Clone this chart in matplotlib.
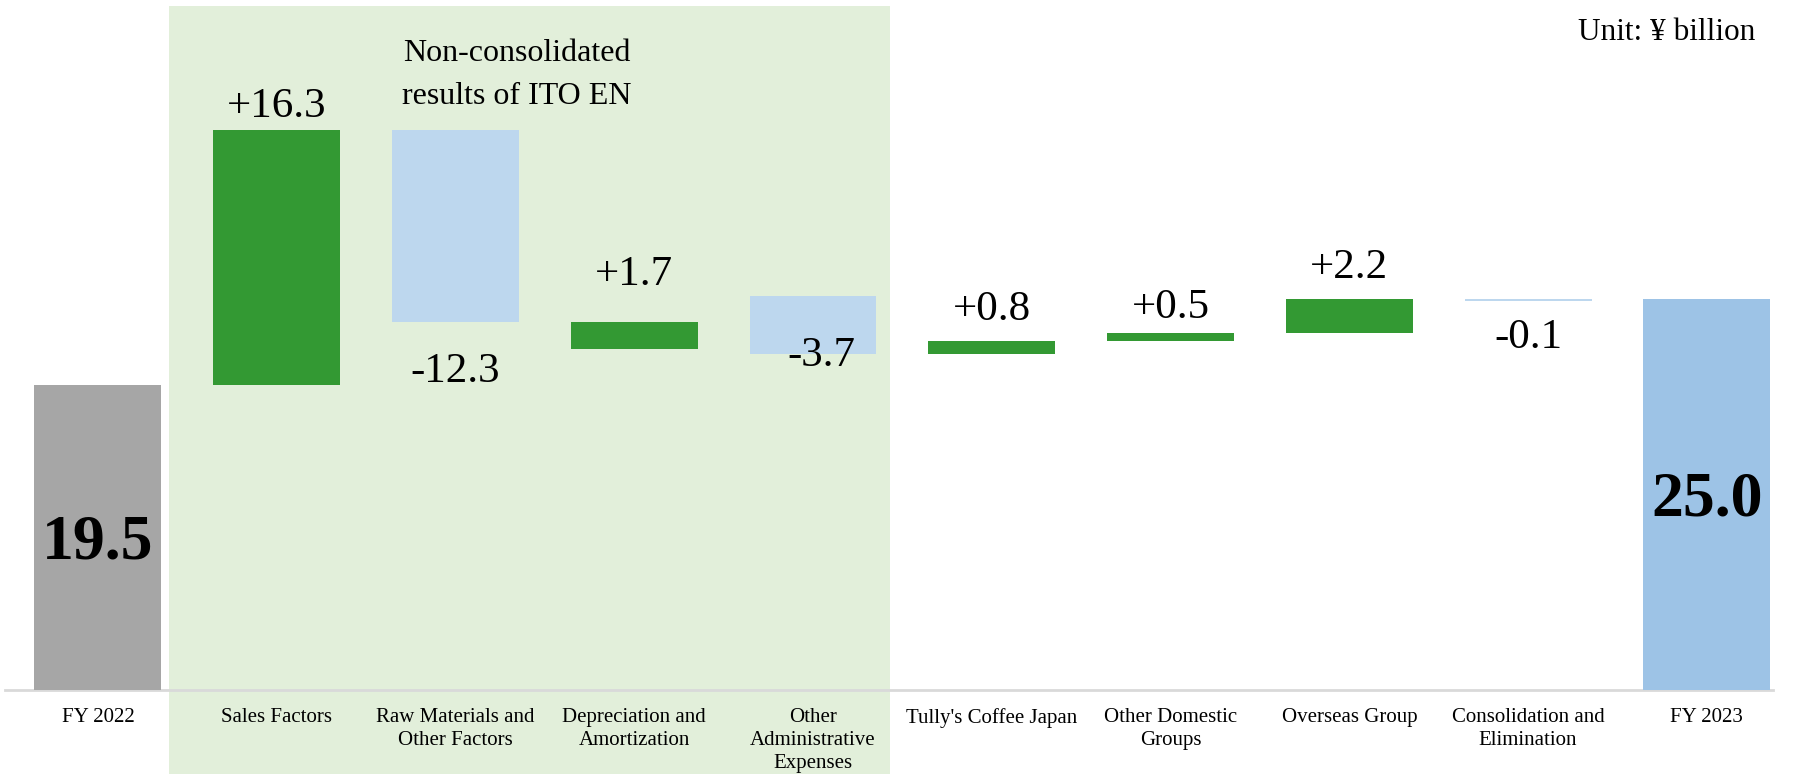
import matplotlib
matplotlib.use("Agg")
import matplotlib.pyplot as plt
from matplotlib.patches import Rectangle
import numpy as np

plt.rcParams['font.family'] = ['Liberation Serif', 'DejaVu Serif']

categories = ['FY 2022', 'Sales Factors', 'Raw Materials and\nOther Factors',
              'Depreciation and\nAmortization', 'Other\nAdministrative\nExpenses',
              "Tully's Coffee Japan", 'Other Domestic\nGroups', 'Overseas Group',
              'Consolidation and\nElimination', 'FY 2023']
start_value = 19.5
changes = [16.3, -12.3, 1.7, -3.7, 0.8, 0.5, 2.2, -0.1]
end_value = 25.0
change_labels = ['+16.3', '-12.3', '+1.7', '-3.7', '+0.8', '+0.5', '+2.2', '-0.1']
total_labels = ['19.5', '25.0']
# in the original chart the Depreciation bar hangs below the running level
hangs_below = [False, False, True, False, False, False, False, False]

# styling
C_POS = '#339933'
C_NEG = '#BDD7EE'
C_START = '#A6A6A6'
C_END = '#9DC3E6'
C_SHADE = '#E2EFDA'
label_offsets_pt = [(0, 17), (0, -35.5), (0, 34), (6, -1.5), (0, 22.5), (0, 18.5), (0, 22.5), (0, -27)]
total_offsets_pt = [-4, -4]

fig = plt.figure(figsize=(17.96, 7.74), dpi=100)
fig.patch.set_facecolor('white')
ax = fig.add_axes([5/1796, 1-690/774, (1773-5)/1796, 690/774])
ax.set_facecolor('none')

shade = Rectangle((169/1796, 0), (890-169)/1796, 1-6/774, transform=fig.transFigure,
                  facecolor=C_SHADE, edgecolor='none', zorder=-1)
fig.patches.append(shade)

x = np.arange(len(categories))
w = 0.71
ax.bar(x[0], start_value, width=w, color=C_START, zorder=2)
ax.bar(x[-1], end_value, width=w, color=C_END, zorder=2)

cum = start_value
for i, ch in enumerate(changes):
    xi = x[i + 1]
    if hangs_below[i]:
        bottom = cum - abs(ch)
        top = cum
    else:
        bottom = cum if ch >= 0 else cum + ch
        top = bottom + abs(ch)
    ax.bar(xi, abs(ch), bottom=bottom, width=w,
           color=C_POS if ch >= 0 else C_NEG, zorder=2)
    dx, dy = label_offsets_pt[i]
    yref = top if ch >= 0 else bottom
    ax.annotate(change_labels[i], (xi, yref), xytext=(dx, dy), textcoords='offset points',
                ha='center', va='center', fontsize=31, color='black', zorder=3)
    cum += ch

for xi, v, lab, off in [(x[0], start_value, total_labels[0], total_offsets_pt[0]),
                        (x[-1], end_value, total_labels[1], total_offsets_pt[1])]:
    ax.annotate(lab, (xi, v / 2), xytext=(0, off), textcoords='offset points',
                ha='center', va='center', fontsize=46, fontweight='bold',
                color='black', zorder=3)

ax.set_xlim(-0.52, 9.37)
ax.set_ylim(0, 690/15.64)
ax.set_xticks(x)
ax.set_xticklabels(categories, fontsize=15, linespacing=1.3, va='top')
ax.tick_params(axis='x', length=0, pad=13)
ax.set_yticks([])
for s in ['top', 'right', 'left']:
    ax.spines[s].set_visible(False)
ax.spines['bottom'].set_color('#D9D9D9')
ax.spines['bottom'].set_linewidth(2)
ax.spines['bottom'].set_zorder(1)

fig.text(1755/1796, 1-33/774, 'Unit: ¥ billion', ha='right', va='center', fontsize=22.5)
fig.text(517/1796, 1-75/774, 'Non-consolidated\nresults of ITO EN', ha='center', va='center',
         fontsize=23, linespacing=1.6)

fig.savefig('out.png', dpi=100)
